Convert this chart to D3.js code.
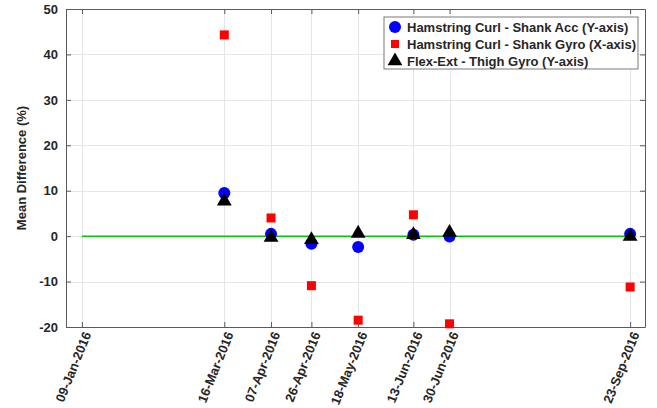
<!DOCTYPE html>
<html>
<head>
<meta charset="utf-8">
<script src="https://cdn.jsdelivr.net/npm/d3@7"></script>
<style>
  body { margin: 0; background: #fff; }
  text { font-family: "Liberation Sans", Arial, sans-serif; font-weight: bold; fill: #262626; }
</style>
</head>
<body>
<div id="chart"></div>
<script>
const width = 657,
    height = 408,
    margin = {top: 9, right: 12, bottom: 81, left: 66};

// test dates (tick labels) and the three series
const tickDates = ["09-Jan-2016", "16-Mar-2016", "07-Apr-2016", "26-Apr-2016",
    "18-May-2016", "13-Jun-2016", "30-Jun-2016", "23-Sep-2016"];
const testDates = ["16-Mar-2016", "07-Apr-2016", "26-Apr-2016", "18-May-2016",
    "13-Jun-2016", "30-Jun-2016", "23-Sep-2016"];
const shankAcc = [9.5, 0.5, -1.7, -2.4, 0.3, -0.1, 0.5];
const shankGyro = [44.3, 4.0, -10.9, -18.5, 4.7, -19.3, -11.2];
const thighGyro = [7.7, -0.3, -0.8, 0.6, 0.3, 0.8, -0.1];
const seriesNames = ["Hamstring Curl - Shank Acc (Y-axis)",
    "Hamstring Curl - Shank Gyro (X-axis)",
    "Flex-Ext - Thigh Gyro (Y-axis)"];
const yTicks = [-20, -10, 0, 10, 20, 30, 40, 50];

const parse = d3.timeParse("%d-%b-%Y"),
    fmt = d3.timeFormat("%d-%b-%Y");

const svg = d3.select("#chart").append("svg")
    .attr("width", width)
    .attr("height", height);

const x = d3.scaleTime()
    .domain([new Date(2016, 0, 1, 12), new Date(2016, 8, 30, 0)])
    .range([margin.left, width - margin.right]);

const y = d3.scaleLinear()
    .domain([-20, 50])
    .range([height - margin.bottom, margin.top]);

const x0 = margin.left, x1 = width - margin.right,
    y0 = height - margin.bottom, y1 = margin.top;

// grid
const grid = svg.append("g").attr("stroke", "#e6e6e6").attr("stroke-width", 1);
grid.selectAll(".gx").data(tickDates).join("line")
    .attr("x1", d => Math.round(x(parse(d))) + 0.5)
    .attr("x2", d => Math.round(x(parse(d))) + 0.5)
    .attr("y1", y1).attr("y2", y0);
grid.selectAll(".gy").data(yTicks).join("line")
    .attr("x1", x0).attr("x2", x1)
    .attr("y1", d => Math.round(y(d)) + 0.5)
    .attr("y2", d => Math.round(y(d)) + 0.5);

// axes (MATLAB box style, ticks pointing inward)
const xAxisB = svg.append("g")
    .attr("transform", `translate(0,${y0})`)
    .call(d3.axisBottom(x).tickValues(tickDates.map(parse)).tickSizeInner(-5).tickSizeOuter(0).tickFormat(fmt));
xAxisB.selectAll("text")
    .attr("text-anchor", "end")
    .attr("dx", "0")
    .attr("dy", "0")
    .attr("y", 0)
    .attr("transform", "translate(9,7) rotate(-68)")
    .style("font-size", "13px");

svg.append("g")
    .attr("transform", `translate(0,${y1})`)
    .call(d3.axisTop(x).tickValues(tickDates.map(parse)).tickSizeInner(-5).tickSizeOuter(0).tickFormat(""));

const yAxisL = svg.append("g")
    .attr("transform", `translate(${x0},0)`)
    .call(d3.axisLeft(y).tickValues(yTicks).tickSizeInner(-5).tickSizeOuter(0).tickFormat(d => String(d)));
yAxisL.selectAll("text").attr("x", -8).style("font-size", "13px");

svg.append("g")
    .attr("transform", `translate(${x1},0)`)
    .call(d3.axisRight(y).tickValues(yTicks).tickSizeInner(-5).tickSizeOuter(0).tickFormat(""));

svg.selectAll(".domain").attr("stroke", "#5a5a5a");
svg.selectAll(".tick line").attr("stroke", "#5a5a5a");
svg.selectAll(".tick text").attr("fill", "#262626").style("font-family", "Liberation Sans, Arial, sans-serif");

// y label
svg.append("text")
    .attr("transform", `translate(26,${(y0 + y1) / 2}) rotate(-90)`)
    .attr("text-anchor", "middle")
    .style("font-size", "13px")
    .text("Mean Difference (%)");

// zero reference line
svg.append("line")
    .attr("x1", x(parse(tickDates[0])))
    .attr("x2", x(parse(tickDates[tickDates.length - 1])))
    .attr("y1", y(0)).attr("y2", y(0))
    .attr("stroke", "#00c800")
    .attr("stroke-width", 1.5);

const pts = (vals) => vals.map((v, i) => ({date: parse(testDates[i]), v: v}));

// red squares
svg.append("g").selectAll("rect").data(pts(shankGyro)).join("rect")
    .attr("x", d => x(d.date) - 4.5)
    .attr("y", d => y(d.v) - 4.5)
    .attr("width", 9).attr("height", 9)
    .attr("fill", "#ff0000");

// blue circles
svg.append("g").selectAll("circle").data(pts(shankAcc)).join("circle")
    .attr("cx", d => x(d.date))
    .attr("cy", d => y(d.v))
    .attr("r", 6)
    .attr("fill", "#0000ff");

// black triangles
const tri = d3.symbol().type(d3.symbolTriangle).size(95);
svg.append("g").selectAll("path").data(pts(thighGyro)).join("path")
    .attr("transform", d => `translate(${x(d.date)},${y(d.v)})`)
    .attr("d", tri)
    .attr("fill", "#000");

// legend
const lg = svg.append("g").attr("transform", "translate(384,17)");
lg.append("rect")
    .attr("width", 254).attr("height", 52)
    .attr("fill", "#fff")
    .attr("stroke", "#7a7a7a");
const rows = lg.selectAll(".row").data(seriesNames).join("g")
    .attr("transform", (d, i) => `translate(0,${10 + i * 17})`);
rows.append("text")
    .attr("x", 23).attr("y", 4.5)
    .style("font-size", "13px")
    .text(d => d);
rows.filter((d, i) => i === 0).append("circle")
    .attr("cx", 11).attr("r", 6).attr("fill", "#0000ff");
rows.filter((d, i) => i === 1).append("rect")
    .attr("x", 7).attr("y", -4).attr("width", 8).attr("height", 8).attr("fill", "#ff0000");
rows.filter((d, i) => i === 2).append("path")
    .attr("transform", "translate(11,0)")
    .attr("d", tri).attr("fill", "#000");
</script>
</body>
</html>
